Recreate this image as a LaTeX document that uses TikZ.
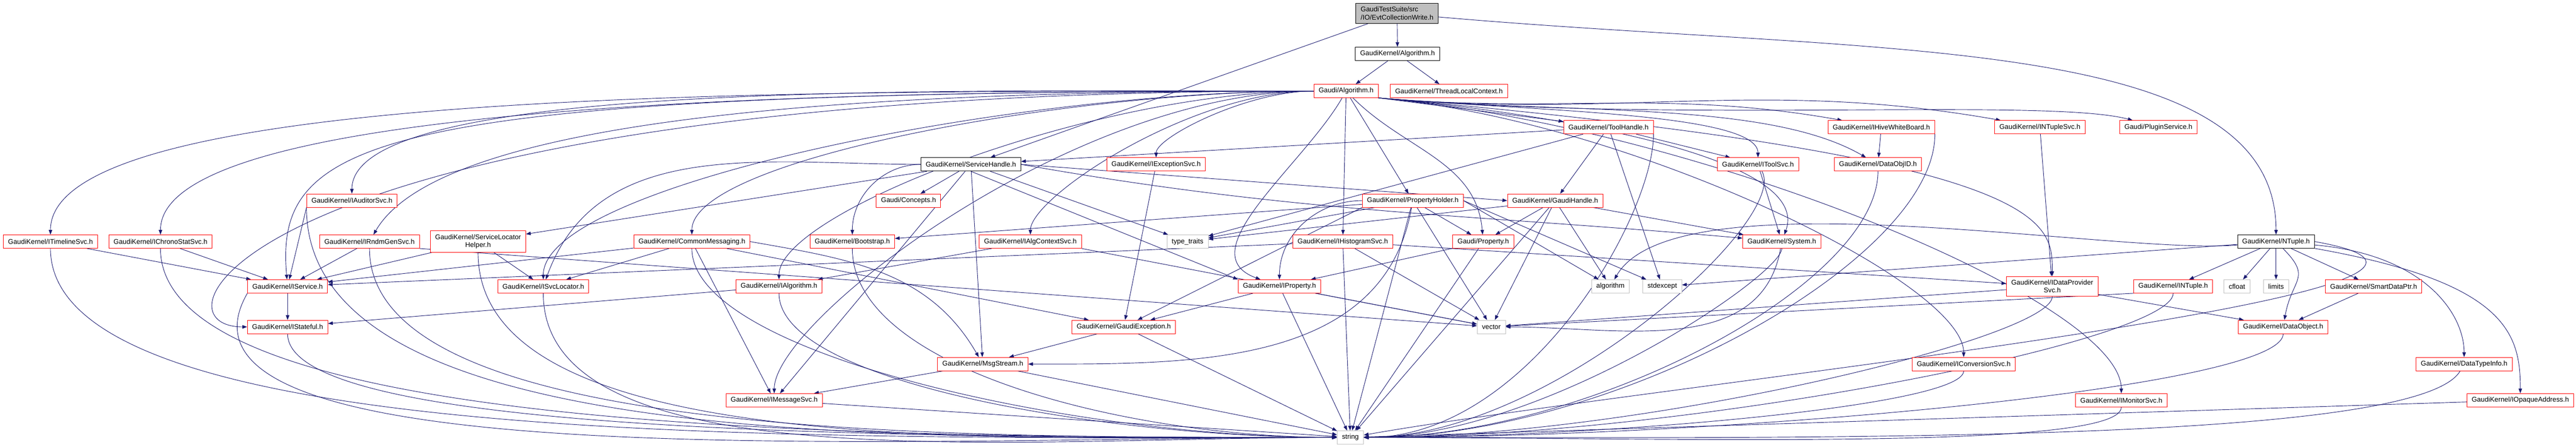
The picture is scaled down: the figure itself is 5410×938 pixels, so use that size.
\documentclass[tikz,border=0pt]{standalone}
\usepackage{fontspec}
\setmainfont{Liberation Sans}
\usetikzlibrary{arrows.meta,backgrounds}
\definecolor{edgeblue}{RGB}{25,25,112}
\definecolor{leafgray}{RGB}{191,191,191}
\newcommand{\gkfont}{\fontsize{2.88}{3.33}\selectfont}
\begin{document}
\begin{tikzpicture}[x=0.2pt,y=-0.2pt,
 hbox/.style={rectangle,draw,line width=0.2pt,fill=white,minimum height=5.6pt,inner xsep=2pt,inner ysep=0.53pt,font=\gkfont},
 redbox/.style={hbox,draw=red},
 blkbox/.style={hbox,draw=black},
 sysbox/.style={hbox,draw=leafgray},
 rootbox/.style={hbox,draw=black,fill=leafgray,align=left,inner ysep=1.47pt},
 twoline/.style={redbox,align=center,inner ysep=1.47pt},
 dep/.style={draw=edgeblue,line width=0.2pt,-{Triangle[length=2pt,width=1.47pt]}},
 gl/.style={out=180,in=90,in looseness=0.3},
 gr/.style={out=-5,in=90,in looseness=0.3},
 sl/.style={out=-90,in=180,out looseness=0.4},
 sr/.style={out=-90,in=0,out looseness=0.15}]
 \useasboundingbox(0,0)rectangle(5410,938);
 \node[rootbox](root)at(2934,28){GaudiTestSuite/src\\/IO/EvtCollectionWrite.h};
 \node[blkbox](alg)at(2935,113){GaudiKernel/Algorithm.h};
 \node[redbox](galg)at(2827,191){Gaudi/Algorithm.h};
 \node[redbox](tlc)at(3043,191){GaudiKernel/ThreadLocalContext.h};
 \node[redbox](toolh)at(3378,267){GaudiKernel/ToolHandle.h};
 \node[redbox](hive)at(3951,267){GaudiKernel/IHiveWhiteBoard.h};
 \node[redbox](intsvc)at(4284,267){GaudiKernel/INTupleSvc.h};
 \node[redbox](plugin)at(4533,267){Gaudi/PluginService.h};
 \node[blkbox](svch)at(2039,345){GaudiKernel/ServiceHandle.h};
 \node[redbox](iexc)at(2428,345){GaudiKernel/IExceptionSvc.h};
 \node[redbox](itoolsvc)at(3692,345){GaudiKernel/IToolSvc.h};
 \node[redbox](dobjid)at(3944,345){GaudiKernel/DataObjID.h};
 \node[redbox](iaud)at(739,421){GaudiKernel/IAuditorSvc.h};
 \node[redbox](concepts)at(1908,421){Gaudi/Concepts.h};
 \node[redbox](propholder)at(2967,421){GaudiKernel/PropertyHolder.h};
 \node[redbox](gaudihandle)at(3266,421){GaudiKernel/GaudiHandle.h};
 \node[redbox](itimeline)at(106,507){GaudiKernel/ITimelineSvc.h};
 \node[redbox](ichrono)at(337,507){GaudiKernel/IChronoStatSvc.h};
 \node[redbox](irndm)at(776,507){GaudiKernel/IRndmGenSvc.h};
 \node[twoline](slh)at(1004,507){GaudiKernel/ServiceLocator\\Helper.h};
 \node[redbox](commsg)at(1453,507){GaudiKernel/CommonMessaging.h};
 \node[redbox](bootstrap)at(1790,507){GaudiKernel/Bootstrap.h};
 \node[redbox](ialgctx)at(2164,507){GaudiKernel/IAlgContextSvc.h};
 \node[sysbox](typetraits)at(2494,507){type\_traits};
 \node[redbox](ihisto)at(2820,507){GaudiKernel/IHistogramSvc.h};
 \node[redbox](gprop)at(3115,507){Gaudi/Property.h};
 \node[redbox](system)at(3742,507){GaudiKernel/System.h};
 \node[blkbox](ntuple)at(4780,507){GaudiKernel/NTuple.h};
 \node[redbox](iservice)at(604,601){GaudiKernel/IService.h};
 \node[redbox](isvcloc)at(1141,601){GaudiKernel/ISvcLocator.h};
 \node[redbox](ialgorithm)at(1636,601){GaudiKernel/IAlgorithm.h};
 \node[redbox](iproperty)at(2687,601){GaudiKernel/IProperty.h};
 \node[sysbox](algorithm)at(3382,601){algorithm};
 \node[sysbox](stdexcept)at(3491,601){stdexcept};
 \node[twoline](idataprov)at(4310,601){GaudiKernel/IDataProvider\\Svc.h};
 \node[redbox](intuple)at(4564,601){GaudiKernel/INTuple.h};
 \node[sysbox](cfloat)at(4698,601){cfloat};
 \node[sysbox](limits)at(4780,601){limits};
 \node[redbox](smartptr)at(4985,601){GaudiKernel/SmartDataPtr.h};
 \node[redbox](istateful)at(604,686){GaudiKernel/IStateful.h};
 \node[redbox](gexc)at(2360,686){GaudiKernel/GaudiException.h};
 \node[sysbox](vector)at(3132,686){vector};
 \node[redbox](dataobject)at(4795,686){GaudiKernel/DataObject.h};
 \node[redbox](msgstream)at(2064,764){GaudiKernel/MsgStream.h};
 \node[redbox](iconv)at(4124,764){GaudiKernel/IConversionSvc.h};
 \node[redbox](datatypeinfo)at(5175,764){GaudiKernel/DataTypeInfo.h};
 \node[redbox](imsgsvc)at(1626,840){GaudiKernel/IMessageSvc.h};
 \node[redbox](imonitor)at(4455,840){GaudiKernel/IMonitorSvc.h};
 \node[redbox](iopaque)at(5293,840){GaudiKernel/IOpaqueAddress.h};
 \node[sysbox](string)at(2836,918){string};
 \begin{scope}[on background layer]
 \draw[dep](root)--(alg);
 \draw[dep](root)--(svch);
 \draw[dep](root)to[out=-5,in=90,out looseness=1.3,in looseness=0.6](ntuple);
 \draw[dep](alg)--(galg);
 \draw[dep](alg)--(tlc);
 \draw[dep](galg)to[gl](itimeline);
 \draw[dep](galg)to[gl](ichrono);
 \draw[dep](galg)to[gl](iaud);
 \draw[dep](galg)to[out=180,in=60,in looseness=0.4](irndm);
 \draw[dep](galg)to[out=180,in=95,out looseness=2.3,in looseness=0.35](iservice);
 \draw[dep](galg)to[out=180,in=180,out looseness=2.5,in looseness=0.25](istateful);
 \draw[dep](galg)to[gl](isvcloc);
 \draw[dep](galg)to[gl](commsg);
 \draw[dep](galg)to[gl](ialgorithm);
 \draw[dep](galg)to[gl](imsgsvc);
 \draw[dep](galg)to[gl](ialgctx);
 \draw[dep](galg)to[gl](iexc);
 \draw[dep](galg)--(ihisto);
 \draw[dep](galg)--(propholder);
 \draw[dep](galg)to[out=-45,in=95](gprop);
 \draw[dep](galg)to[out=-120,in=160](iproperty);
 \draw[dep](galg.south east)--(toolh);
 \draw[dep](galg.south east)to[out=-5,in=170](hive);
 \draw[dep](galg.south east)to[out=-5,in=170](intsvc);
 \draw[dep](galg.south east)to[out=-5,in=165,in looseness=0.3](plugin);
 \draw[dep](galg.south east)to[gr](itoolsvc);
 \draw[dep](galg.south east)to[out=-5,in=150,in looseness=0.6](dobjid);
 \draw[dep](galg.south east)to[out=-5,in=70,in looseness=0.5](system);
 \draw[dep](galg.south east)to[out=-5,in=90,out looseness=2.5,in looseness=0.2](idataprov);
 \draw[dep](galg.south east)to[gr](iconv);
 \draw[dep](galg.south east)to[gr](imonitor);
 \draw[dep](svch)--(slh);
 \draw[dep](svch)to[out=180,in=70](isvcloc);
 \draw[dep](svch)to[out=180,in=90](bootstrap);
 \draw[dep](svch)--(concepts);
 \draw[dep](svch)--(msgstream);
 \draw[dep](svch)--(imsgsvc);
 \draw[dep](svch)--(typetraits);
 \draw[dep](svch.south)--(iproperty.north west);
 \draw[dep](svch.east)--(gaudihandle.west);
 \draw[dep](svch.east)to[out=-10,in=175](system);
 \draw[dep](toolh)--(svch);
 \draw[dep](toolh)--(gaudihandle);
 \draw[dep](toolh)--(itoolsvc);
 \draw[dep](toolh)--(stdexcept);
 \draw[dep](toolh)--(typetraits);
 \draw[dep](toolh.south east)to[out=-90,in=0,out looseness=0.5](string);
 \draw[dep](gaudihandle)--(gprop);
 \draw[dep](gaudihandle)--(typetraits);
 \draw[dep](gaudihandle)--(algorithm);
 \draw[dep](gaudihandle)--(system);
 \draw[dep](gaudihandle)--(vector);
 \draw[dep](gaudihandle)--(string);
 \draw[dep](propholder)--(bootstrap);
 \draw[dep](propholder.west)to[out=180,in=90](iproperty);
 \draw[dep](propholder)--(gprop);
 \draw[dep](propholder)--(typetraits);
 \draw[dep](propholder)to[out=-100,in=0](msgstream);
 \draw[dep](propholder.south west)--(gexc);
 \draw[dep](propholder.east)--(stdexcept);
 \draw[dep](propholder.east)--(algorithm);
 \draw[dep](propholder)--(vector);
 \draw[dep](propholder)--(string);
 \draw[dep](gprop)--(iproperty);
 \draw[dep](gprop)--(string);
 \draw[dep](iexc)--(gexc);
 \draw[dep](itoolsvc)--(system);
 \draw[dep](itoolsvc)to[out=-60,in=0,out looseness=0.3](string);
 \draw[dep](hive)--(dobjid);
 \draw[dep](hive.south east)to[out=-90,in=0,out looseness=0.5](string);
 \draw[dep](dobjid)to[out=-90,in=0,out looseness=0.5](string);
 \draw[dep](intsvc)--(idataprov);
 \draw[dep](system)to[out=-100,in=0](vector);
 \draw[dep](system)to[sr](string);
 \draw[dep](ntuple)--(intuple);
 \draw[dep](ntuple)--(cfloat);
 \draw[dep](ntuple)--(limits);
 \draw[dep](ntuple)--(smartptr);
 \draw[dep](ntuple)to[out=-45,in=80,looseness=1.5](dataobject);
 \draw[dep](ntuple)to[out=-5,in=90,out looseness=1.5,in looseness=0.6](datatypeinfo);
 \draw[dep](ntuple)to[out=-10,in=90,out looseness=2,in looseness=0.6](iopaque);
 \draw[dep](ntuple)--(stdexcept);
 \draw[dep](ntuple)to[out=185,in=60,looseness=0.5](algorithm);
 \draw[dep](ntuple.east)to[out=-10,in=10,out looseness=0.75,in looseness=0.75](string);
 \draw[dep](intuple.south west)--(vector);
 \draw[dep](intuple)to[sr](string);
 \draw[dep](smartptr)--(dataobject);
 \draw[dep](dataobject)to[sr](string);
 \draw[dep](datatypeinfo)to[out=-120,in=0,out looseness=0.2](string);
 \draw[dep](iopaque)--(string);
 \draw[dep](imonitor)to[sr](string);
 \draw[dep](iconv)to[sr](string);
 \draw[dep](idataprov)--(dataobject);
 \draw[dep](idataprov)--(vector);
 \draw[dep](idataprov)to[sr](string);
 \draw[dep](itimeline)--(iservice);
 \draw[dep](itimeline)to[sl](string);
 \draw[dep](ichrono)--(iservice);
 \draw[dep](ichrono)to[sl](string);
 \draw[dep](iaud.south west)--(iservice);
 \draw[dep](iaud.south west)to[sl,out looseness=0.6](string);
 \draw[dep](irndm)--(iservice);
 \draw[dep](irndm.south east)--(vector);
 \draw[dep](irndm)to[sl,out looseness=0.5](string);
 \draw[dep](slh)--(iservice);
 \draw[dep](slh)--(isvcloc);
 \draw[dep](slh)to[sl,out looseness=0.6](string);
 \draw[dep](commsg)--(iservice);
 \draw[dep](commsg)--(isvcloc);
 \draw[dep](commsg)--(imsgsvc);
 \draw[dep](commsg.east)to[out=-10,in=120](msgstream);
 \draw[dep](commsg)--(gexc);
 \draw[dep](commsg)to[sl](string);
 \draw[dep](bootstrap)to[sl,out looseness=0.6](string);
 \draw[dep](ialgctx)--(ialgorithm);
 \draw[dep](ialgctx.south east)--(vector);
 \draw[dep](iservice)--(istateful);
 \draw[dep](iservice.south west)to[out=-120,in=180,out looseness=0.5](string);
 \draw[dep](istateful)to[sl,out looseness=0.25](string);
 \draw[dep](isvcloc)to[sl,out looseness=0.6](string);
 \draw[dep](ialgorithm)--(istateful);
 \draw[dep](ialgorithm)to[sl](string);
 \draw[dep](iproperty)--(gexc);
 \draw[dep](iproperty)--(vector);
 \draw[dep](iproperty)--(string);
 \draw[dep](ihisto)--(iservice);
 \draw[dep](ihisto)--(idataprov);
 \draw[dep](ihisto)--(vector);
 \draw[dep](ihisto)--(string);
 \draw[dep](gexc)--(msgstream);
 \draw[dep](gexc)--(string);
 \draw[dep](msgstream)--(imsgsvc);
 \draw[dep](msgstream)--(string);
 \draw[dep](imsgsvc)--(string);
 \end{scope}
\end{tikzpicture}
\end{document}
